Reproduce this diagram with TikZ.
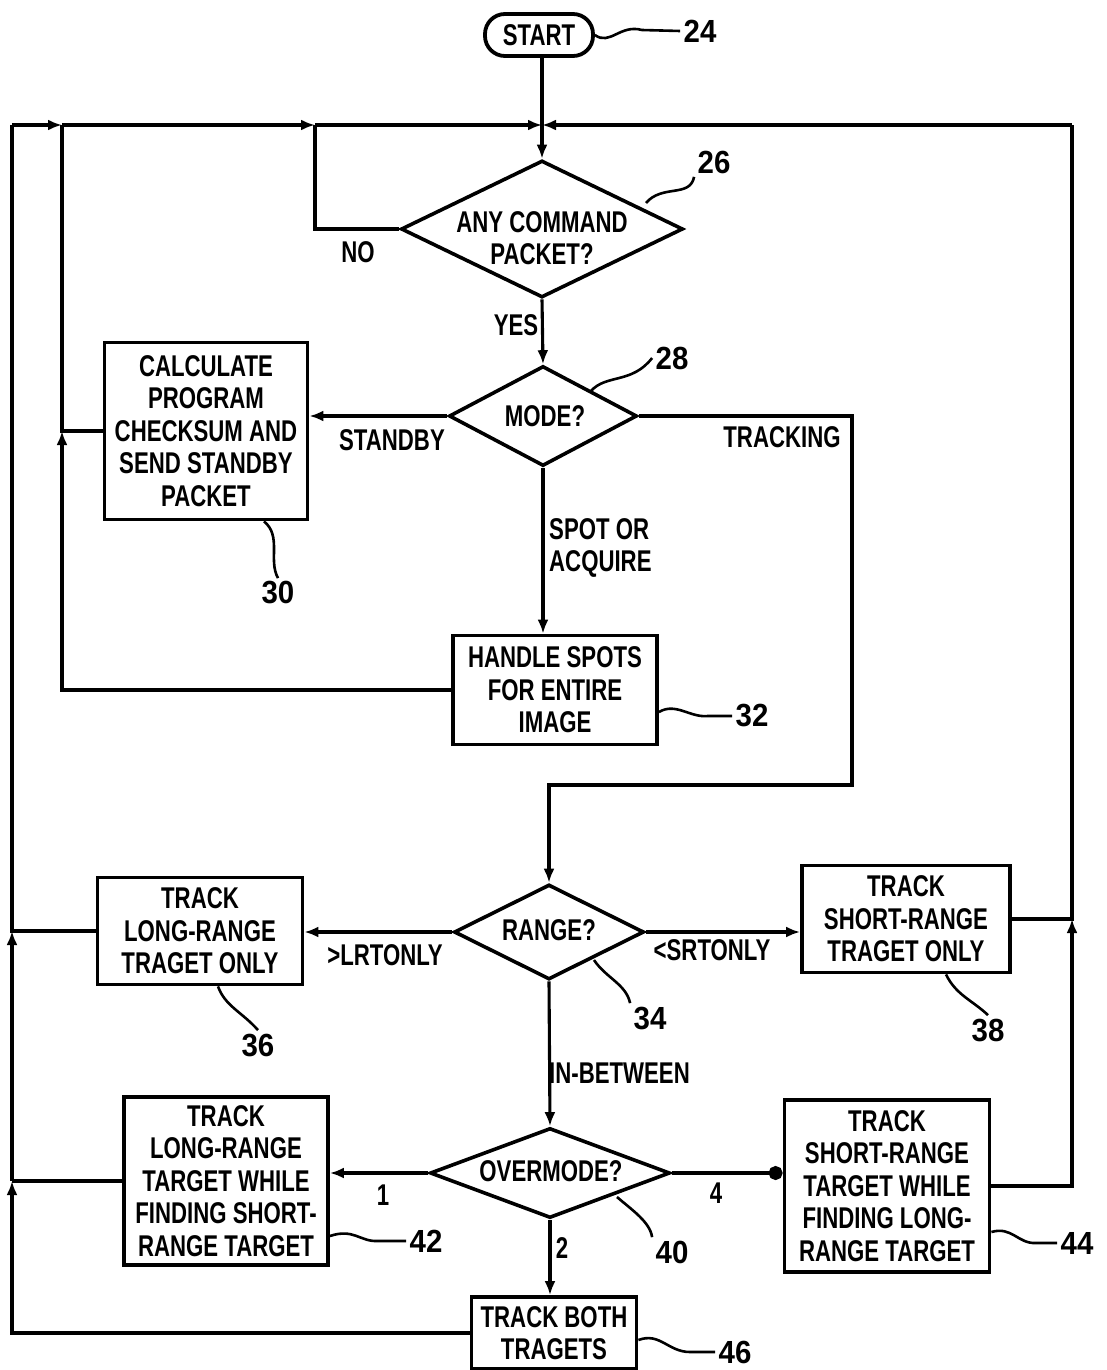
\documentclass[tikz,border=0pt]{standalone}
\usepackage{fontspec}
\setmainfont{Liberation Sans}[FakeStretch=0.74,UprightFont=*-Bold]
\newfontfamily\numfont{Liberation Sans Bold}[FakeStretch=0.92]
\usetikzlibrary{arrows.meta,shapes.geometric,calc}
\begin{document}
\begin{tikzpicture}[x=1pt,y=-1pt,
  every node/.style={font=\fontsize{30}{32.5}\selectfont},
  box/.style={draw, line width=3.8pt, align=center, inner sep=0pt},
  dia/.style={draw, diamond, line width=3.6pt, inner sep=0pt},
  conn/.style={line width=3.1pt},
  arr/.style={conn, -{Latex[length=14pt,width=11pt]}},
  dotarr/.style={conn, -{Circle[length=14pt]}},
  lead/.style={line width=2.6pt},
  num/.style={font=\numfont\fontsize{32}{34}\selectfont},
  txt/.style={align=center, inner sep=0pt}]
\useasboundingbox (0,0) rectangle (1106,1370);

% helper coordinates
\coordinate (lx) at (12,0);
\coordinate (mx) at (62,0);
\coordinate (nx) at (315,0);
\coordinate (rx) at (1072,0);
\coordinate (ty) at (0,125);
\coordinate (tk) at (852,0);
\coordinate (tky) at (0,785);

% nodes
\node[box, rounded corners=20pt, minimum width=108, minimum height=42] (start) at (539,35) {START};

\node[dia, minimum width=282, minimum height=137] (d26) at (542,229) {};
\node[txt] (t26) at (542,238) {ANY COMMAND\\PACKET?};

\node[dia, minimum width=188, minimum height=100] (d28) at (543,416) {};
\node[txt] (t28) at (545,416) {MODE?};

\node[box, minimum width=203, minimum height=177] (b30) at (206,431) {CALCULATE\\PROGRAM\\CHECKSUM AND\\SEND STANDBY\\PACKET};

\node[box, minimum width=204, minimum height=109] (b32) at (555,690) {HANDLE SPOTS\\FOR ENTIRE\\IMAGE};

\node[dia, minimum width=190, minimum height=95] (d34) at (549,932) {};
\node[txt] (t34) at (549,930) {RANGE?};

\node[box, minimum width=205, minimum height=107] (b36) at (200,931) {TRACK\\LONG-RANGE\\TRAGET ONLY};
\node[box, minimum width=208, minimum height=107] (b38) at (906,919) {TRACK\\SHORT-RANGE\\TRAGET ONLY};

\node[dia, minimum width=240, minimum height=90] (d40) at (550,1173) {};
\node[txt] (t40) at (551,1171) {OVERMODE?};

\node[box, minimum width=204, minimum height=168] (b42) at (226,1181) {TRACK\\LONG-RANGE\\TARGET WHILE\\FINDING SHORT-\\RANGE TARGET};
\node[box, minimum width=205, minimum height=172] (b44) at (887,1186) {TRACK\\SHORT-RANGE\\TARGET WHILE\\FINDING LONG-\\RANGE TARGET};

\node[box, minimum width=165, minimum height=72] (b46) at (554,1333) {TRACK BOTH\\TRAGETS};

% connector labels
\node[txt] (lno) at (358,252) {NO};
\node[txt] (lyes) at (516,325) {YES};
\node[txt] (lsb) at (392,440) {STANDBY};
\node[txt] (ltr) at (782,437) {TRACKING};
\node[txt, align=left, anchor=west] (lsp) at (549,548) {SPOT OR\\ACQUIRE};
\node[txt] (llr) at (385,955) {>LRTONLY};
\node[txt] (lsr) at (712,950) {<SRTONLY};
\node[txt, anchor=west] (lib) at (549,1073) {IN-BETWEEN};
\node[txt] (l1) at (383,1195) {1};
\node[txt] (l4) at (716,1193) {4};
\node[txt] (l2) at (562,1248) {2};

% reference numbers
\node[num] (n24) at (700,31) {24};
\node[num] (n26) at (714,162) {26};
\node[num] (n28) at (672,358) {28};
\node[num] (n30) at (278,593) {30};
\node[num] (n32) at (752,716) {32};
\node[num] (n34) at (650,1018) {34};
\node[num] (n36) at (258,1045) {36};
\node[num] (n38) at (988,1030) {38};
\node[num] (n40) at (672,1252) {40};
\node[num] (n42) at (426,1241) {42};
\node[num] (n44) at (1077,1243) {44};
\node[num] (n46) at (735,1352) {46};

% main flow
\draw[arr] (start.south -| d26.north) -- (d26.north);
\draw[arr] (d26.south) -- (d28.north);
\draw[arr] (d28.south) -- (d28.south |- b32.north);
\draw[arr] (d28.west) -- (d28.west -| b30.east);
\draw[arr] (d28.east) -| (tk |- tky) -| (d34.north);
\draw[arr] (d34.west) -- (d34.west -| b36.east);
\draw[arr] (d34.east) -- (d34.east -| b38.west);
\draw[arr] (d34.south) -- (d40.north);
\draw[arr] (d40.west) -- (d40.west -| b42.east);
\draw[dotarr] (d40.east) -- (d40.east -| b44.west);
\draw[arr] (d40.south) -- (d40.south |- b46.north);

% NO loop
\draw[conn] (d26.west) -| (nx |- ty);
\draw[arr] (nx |- ty) -- (d26.north |- ty);

% left return lines
\draw[arr] (b46.west) -| (lx |- b42.west);
\draw[conn] (b42.west) -- (lx |- b42.west);
\draw[arr] (lx |- b42.west) -- (lx |- b36.west);
\draw[conn] (b36.west) -- (lx |- b36.west) -- (lx |- ty);
\draw[arr] (lx |- ty) -- (mx |- ty);
\draw[arr] (b32.west) -| (mx |- b30.west);
\draw[conn] (b30.west) -- (mx |- b30.west) -- (mx |- ty);
\draw[arr] (mx |- ty) -- (nx |- ty);

% right return lines
\draw[arr] (b44.east) -| (rx |- b38.east);
\draw[conn] (b38.east) -- (rx |- b38.east) -- (rx |- ty);
\draw[arr] (rx |- ty) -- (d26.north |- ty);

% leaders
\draw[lead] (start.east) .. controls (610,46) and (620,24) .. (642,30) -- (n24.west);
\draw[lead] (646,203) .. controls (662,184) and (690,198) .. (n26.south west);
\draw[lead] (591,391) .. controls (606,374) and (632,384) .. (n28.west);
\draw[lead] ($(b30.south)+(58,0)$) .. controls (282,536) and (268,560) .. (n30.north);
\draw[lead] (b32.east |- 0,712) .. controls (676,702) and (690,718) .. (708,716) -- (n32.west);
\draw[lead] (594,960) .. controls (606,978) and (626,984) .. (n34.north west);
\draw[lead] ($(b36.south)+(18,0)$) .. controls (225,1006) and (242,1012) .. (n36.north);
\draw[lead] ($(b38.south)+(40,0)$) .. controls (956,995) and (972,1000) .. (n38.north);
\draw[lead] (617,1197) .. controls (632,1210) and (650,1222) .. (n40.north west);
\draw[lead] (b42.east |- 0,1236) .. controls (354,1228) and (360,1242) .. (378,1241) -- (n42.west);
\draw[lead] (b44.east |- 0,1232) .. controls (1012,1226) and (1018,1244) .. (1036,1243) -- (n44.west);
\draw[lead] (b46.east |- 0,1340) .. controls (660,1332) and (668,1352) .. (690,1352) -- (n46.west);
\end{tikzpicture}
\end{document}
